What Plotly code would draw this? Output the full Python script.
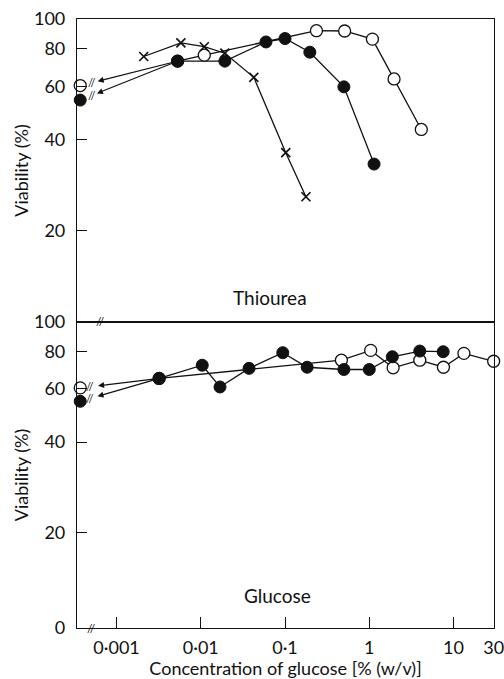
import numpy as np
import plotly.graph_objects as go

# ---------------- data ----------------
CONTROL_X = 0.00037   # plotted position of the "no glucose" control (broken axis)

thiourea_cross_x = [0.0021, 0.0058, 0.011, 0.0193, 0.0426, 0.102, 0.177]
thiourea_cross_y = [75.2, 83.4, 81.0, 77.1, 64.2, 36.2, 25.9]

thiourea_filled_x = [0.0053, 0.0193, 0.0594, 0.1, 0.197, 0.50, 1.14]
thiourea_filled_y = [72.6, 72.6, 84.0, 86.2, 77.7, 59.7, 33.2]
thiourea_filled_control = 54.0

thiourea_open_x = [0.0053, 0.011, 0.236, 0.51, 1.09, 1.97, 4.15]
thiourea_open_y = [72.6, 76.0, 91.5, 91.3, 85.8, 63.4, 43.2]
thiourea_open_control = 60.3

glucose_filled_x = [0.0032, 0.0104, 0.0169, 0.0374, 0.094, 0.183, 0.50, 1.0, 1.88, 3.98, 7.55]
glucose_filled_y = [65.0, 71.9, 60.9, 70.2, 79.1, 70.8, 69.6, 69.6, 76.7, 80.1, 79.7]
glucose_filled_control = 54.6

glucose_open_x = [0.0032, 0.467, 1.04, 1.92, 3.98, 7.6, 13.3, 30]
glucose_open_y = [65.0, 74.7, 80.5, 70.5, 74.7, 70.8, 78.7, 74.1]
glucose_open_control = 60.5

x_tickvals = [0.001, 0.01, 0.1, 1, 10, 30]
x_ticktext = ["0·001", "0·01", "0·1", "1", "10", "30"]
y_tickvals = [20, 40, 60, 80, 100]
ZERO_POS = 10 ** 0.986
y2_tickvals = [ZERO_POS, 20, 40, 60, 80, 100]
y2_ticktext = ["0", "20", "40", "60", "80", "100"]

FONT = "Lato"
BLACK = "#111111"

fig = go.Figure()

def line_trace(x, y, ax, ay):
    fig.add_trace(go.Scatter(x=x, y=y, mode="lines", xaxis=ax, yaxis=ay,
                             line=dict(color=BLACK, width=1.3), showlegend=False,
                             hoverinfo="skip"))

def marker_trace(x, y, ax, ay, kind):
    if kind == "open":
        m = dict(symbol="circle", size=12, color="white", line=dict(color=BLACK, width=1.3))
    elif kind == "filled":
        m = dict(symbol="circle", size=12, color=BLACK, line=dict(color=BLACK, width=1))
    else:
        m = dict(symbol="x-thin", size=9, color=BLACK, line=dict(color=BLACK, width=1.7))
    fig.add_trace(go.Scatter(x=x, y=y, mode="markers", xaxis=ax, yaxis=ay, marker=m,
                             cliponaxis=False, showlegend=False))

# lines
line_trace(thiourea_cross_x, thiourea_cross_y, "x", "y")
line_trace(thiourea_filled_x, thiourea_filled_y, "x", "y")
line_trace(thiourea_open_x, thiourea_open_y, "x", "y")
line_trace(glucose_filled_x, glucose_filled_y, "x2", "y2")
line_trace(glucose_open_x, glucose_open_y, "x2", "y2")

# markers (open below filled)
marker_trace(thiourea_open_x, thiourea_open_y, "x", "y", "open")
marker_trace([CONTROL_X], [thiourea_open_control], "x", "y", "open")
marker_trace(thiourea_filled_x, thiourea_filled_y, "x", "y", "filled")
marker_trace([CONTROL_X], [thiourea_filled_control], "x", "y", "filled")
marker_trace(thiourea_cross_x, thiourea_cross_y, "x", "y", "cross")
marker_trace(glucose_open_x, glucose_open_y, "x2", "y2", "open")
marker_trace([CONTROL_X], [glucose_open_control], "x2", "y2", "open")
marker_trace(glucose_filled_x, glucose_filled_y, "x2", "y2", "filled")
marker_trace([CONTROL_X], [glucose_filled_control], "x2", "y2", "filled")

annotations = []

def control_arrow(first_x, first_y, ctrl_y, xr, yr):
    lc, lcy = np.log10(CONTROL_X), np.log10(ctrl_y)
    lf, lfy = np.log10(first_x), np.log10(first_y)
    annotations.append(dict(x=lc, y=lcy, ax=lf, ay=lfy, xref=xr, yref=yr,
                            axref=xr, ayref=yr, text="", showarrow=True,
                            arrowhead=2, arrowsize=1.0, arrowwidth=1.2,
                            arrowcolor=BLACK, standoff=18))
    t = 0.12
    annotations.append(dict(x=lc + t * (lf - lc), y=lcy + t * (lfy - lcy),
                            xref=xr, yref=yr, text="//", showarrow=False,
                            font=dict(family=FONT, size=11, color=BLACK)))

control_arrow(thiourea_open_x[0], thiourea_open_y[0], thiourea_open_control, "x", "y")
control_arrow(thiourea_filled_x[0], thiourea_filled_y[0], thiourea_filled_control, "x", "y")
control_arrow(glucose_open_x[0], glucose_open_y[0], glucose_open_control, "x2", "y2")
control_arrow(glucose_filled_x[0], glucose_filled_y[0], glucose_filled_control, "x2", "y2")

annotations += [
    dict(x=0.463, y=0.542, xref="paper", yref="paper", text="Thiourea", showarrow=False,
         yanchor="middle", font=dict(family=FONT, size=19, color=BLACK)),
    dict(x=0.48, y=0.054, xref="paper", yref="paper", text="Glucose", showarrow=False,
         yanchor="middle", font=dict(family=FONT, size=19, color=BLACK)),
    dict(x=0.02, y=0.0, xref="paper", yref="paper", text="//", showarrow=False,
         yanchor="middle", font=dict(family=FONT, size=12, color=BLACK)),
    dict(x=0.04, y=0.5025, xref="paper", yref="paper", text="//", showarrow=False,
         yanchor="middle", font=dict(family=FONT, size=12, color=BLACK)),
]

xrange = [-3.47, np.log10(30) + 0.004]
axis_common = dict(showline=True, linecolor=BLACK, linewidth=1.2, mirror=True,
                   showgrid=False, zeroline=False, tickcolor=BLACK, automargin=False,
                   ticklabeloverflow="allow",
                   tickfont=dict(family=FONT, size=18, color=BLACK))

fig.update_layout(
    width=504, height=679,
    margin=dict(l=77, r=10, t=19, b=51),
    paper_bgcolor="white", plot_bgcolor="white",
    font=dict(family=FONT, color=BLACK),
    annotations=annotations,
    xaxis=dict(type="log", range=xrange, domain=[0, 1], anchor="y",
               showticklabels=False, ticks="", **axis_common),
    yaxis=dict(type="log", range=[1.0, 2.0], domain=[0.5025, 1.0], anchor="x",
               tickvals=y_tickvals, ticktext=[str(v) for v in y_tickvals],
               ticks="inside", ticklen=10, ticklabelstandoff=7,
               title=dict(text="Viability (%)", font=dict(family=FONT, size=18), standoff=0),
               **axis_common),
    xaxis2=dict(type="log", range=xrange, domain=[0, 1], anchor="y2",
                tickvals=x_tickvals, ticktext=x_ticktext, ticks="inside", ticklen=11,
                ticklabelstandoff=3,
                title=dict(text="Concentration of glucose [% (w/v)]",
                           font=dict(family=FONT, size=18), standoff=0),
                **axis_common),
    yaxis2=dict(type="log", range=[0.986, 2.0], domain=[0.0, 0.5025], anchor="x2",
                tickvals=y2_tickvals, ticktext=y2_ticktext,
                ticks="inside", ticklen=10, ticklabelstandoff=7,
                title=dict(text="Viability (%)", font=dict(family=FONT, size=18), standoff=0),
                **axis_common),
)

fig.write_html("out.html", config={"displayModeBar": False},
               post_script="document.body.style.margin='0';document.body.style.overflow='hidden';")
